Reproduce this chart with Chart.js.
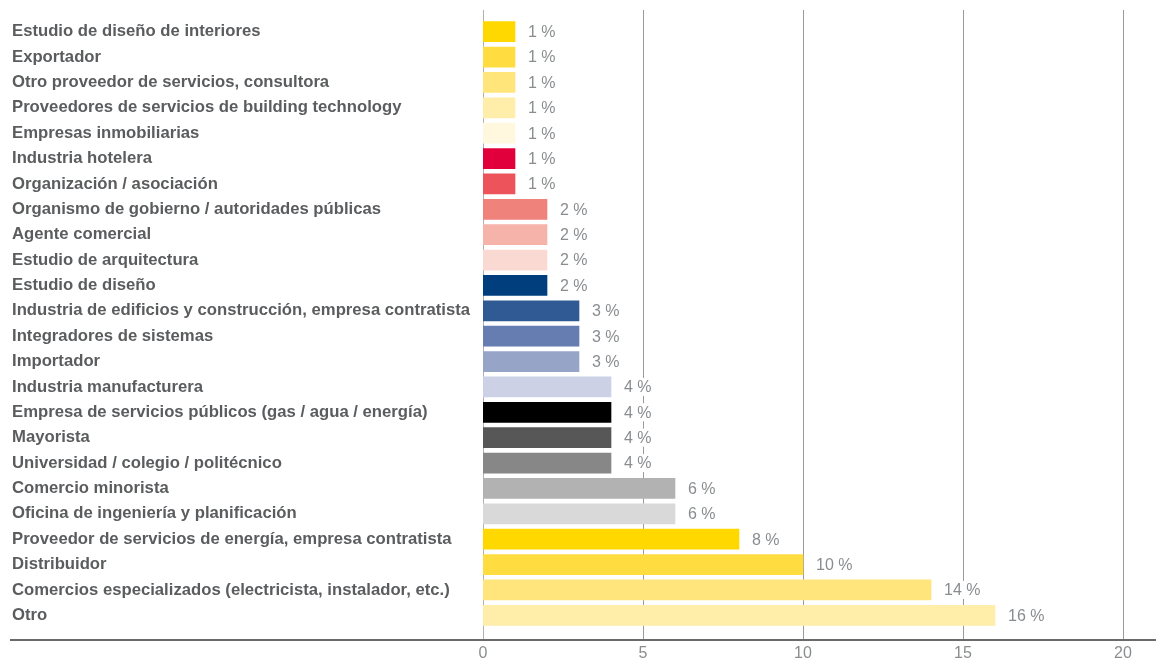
<!DOCTYPE html>
<html><head><meta charset="utf-8">
<script src="https://cdn.jsdelivr.net/npm/chart.js@4.4.1/dist/chart.umd.min.js"></script>
<style>html,body{margin:0;padding:0;background:#fff;}#wrap{width:1156px;height:660px;}</style>
</head><body><div id="wrap"><canvas id="c" width="1156" height="660"></canvas></div>
<script>
const categories = [
  "Estudio de diseño de interiores",
  "Exportador",
  "Otro proveedor de servicios, consultora",
  "Proveedores de servicios de building technology",
  "Empresas inmobiliarias",
  "Industria hotelera",
  "Organización / asociación",
  "Organismo de gobierno / autoridades públicas",
  "Agente comercial",
  "Estudio de arquitectura",
  "Estudio de diseño",
  "Industria de edificios y construcción, empresa contratista",
  "Integradores de sistemas",
  "Importador",
  "Industria manufacturera",
  "Empresa de servicios públicos (gas / agua / energía)",
  "Mayorista",
  "Universidad / colegio / politécnico",
  "Comercio minorista",
  "Oficina de ingeniería y planificación",
  "Proveedor de servicios de energía, empresa contratista",
  "Distribuidor",
  "Comercios especializados (electricista, instalador, etc.)",
  "Otro"
];
const values = [1,1,1,1,1,1,1,2,2,2,2,3,3,3,4,4,4,4,6,6,8,10,14,16];
const barColors = [
  "#FFD800","#FFDD40","#FFE57A","#FFEEAA","#FFF8DE","#E2003C","#EC535B","#F0827C",
  "#F6B3A9","#FBD9D3","#003E7E","#305A94","#657DB0","#96A4C8","#CCD1E5","#000000",
  "#575757","#878787","#B2B2B2","#D9D9D9","#FFD800","#FFDD40","#FFE57C","#FFEDAA"
];
const xTicks = [0,5,10,15,20];
const FONT = '"Liberation Sans", Arial, sans-serif';

const gridPlugin = {
  id: 'gridExt',
  beforeDatasetsDraw(chart) {
    const ctx = chart.ctx, xs = chart.scales.x;
    ctx.save();
    xTicks.forEach(v => {
      const x = Math.round(xs.getPixelForValue(v)) + 0.5;
      ctx.strokeStyle = v === 0 ? '#b0b0b0' : '#9a9a9a';
      ctx.lineWidth = 1;
      ctx.beginPath(); ctx.moveTo(x, 10); ctx.lineTo(x, 640); ctx.stroke();
    });
    ctx.restore();
  },
  afterDatasetsDraw(chart) {
    const ctx = chart.ctx;
    const meta = chart.getDatasetMeta(0);
    ctx.save();
    ctx.font = '16px ' + FONT;
    ctx.textBaseline = 'middle';
    ctx.textAlign = 'left';
    meta.data.forEach((bar, i) => {
      const txt = values[i] + ' %';
      const x = bar.x + 13;
      const w = ctx.measureText(txt).width;
      ctx.fillStyle = '#ffffff';
      ctx.fillRect(x - 2, bar.y - 9, w + 4, 18);
      ctx.fillStyle = '#8a8d8f';
      ctx.fillText(txt, x, bar.y + 1);
    });
    ctx.strokeStyle = '#6a6a6a';
    ctx.lineWidth = 2;
    ctx.beginPath(); ctx.moveTo(10, 640); ctx.lineTo(1156, 640); ctx.stroke();
    ctx.restore();
  }
};

new Chart(document.getElementById('c'), {
  type: 'bar',
  data: { labels: categories, datasets: [{ data: values, backgroundColor: barColors, barThickness: 20, borderWidth: 0 }] },
  options: {
    indexAxis: 'y',
    responsive: false,
    animation: false,
    layout: { padding: { left: 12, top: 19, right: 33, bottom: 0 } },
    plugins: { legend: { display: false }, tooltip: { enabled: false } },
    scales: {
      x: {
        min: 0, max: 20,
        afterBuildTicks(s) { s.ticks = xTicks.map(v => ({ value: v })); },
        afterFit(s) { s.height = 32; },
        grid: { display: false, drawTicks: false },
        border: { display: false },
        ticks: { padding: 16, color: '#8a8d8f', font: { family: FONT, size: 16 } }
      },
      y: {
        afterFit(s) { s.width = 471; },
        grid: { display: false, drawTicks: false },
        border: { display: false },
        ticks: { crossAlign: 'far', color: '#5a5c5e', font: { family: FONT, size: 16.7, weight: 'bold' }, autoSkip: false }
      }
    }
  },
  plugins: [gridPlugin]
});
</script></body></html>
